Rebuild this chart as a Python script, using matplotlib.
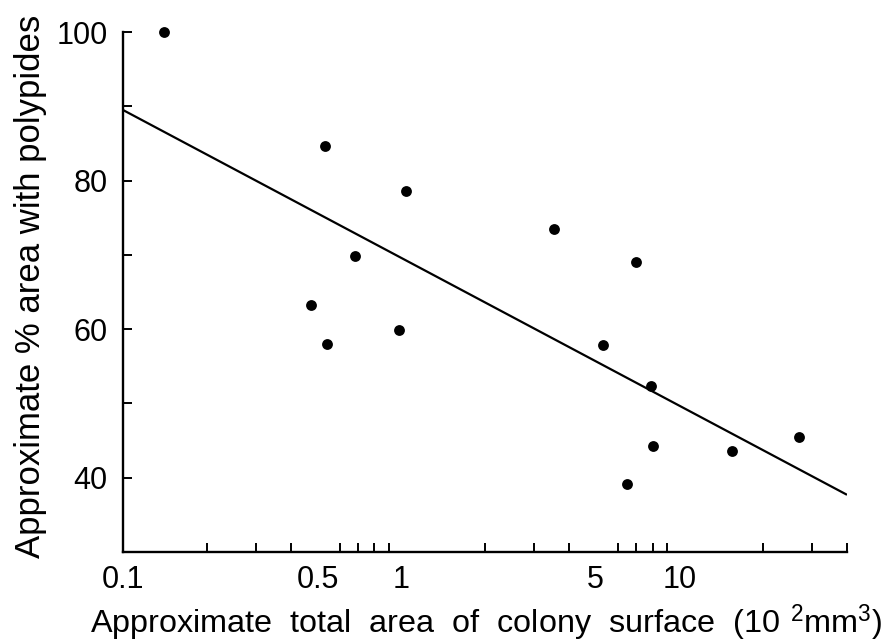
import matplotlib
matplotlib.use("Agg")
import matplotlib.pyplot as plt
from matplotlib.ticker import FixedLocator, NullFormatter, FixedFormatter

plt.rcParams['font.family'] = ['Liberation Sans', 'DejaVu Sans']
plt.rcParams['mathtext.fontset'] = 'custom'
plt.rcParams['mathtext.rm'] = 'Liberation Sans'
plt.rcParams['mathtext.it'] = 'Liberation Sans'

# Data
colony_area = [0.14, 0.533, 1.04, 0.684, 0.474, 0.542, 0.984, 3.55, 6.95, 5.33, 7.87, 8.06, 6.50, 15.4, 26.8]
pct_polypides = [100.0, 84.7, 78.6, 69.9, 63.2, 58.0, 59.9, 73.5, 69.1, 57.8, 52.4, 44.3, 39.1, 43.6, 45.5]

fit_x = [0.1, 40]
fit_y = [89.5, 37.7]

x_tick_values = [0.1, 0.5, 1, 5, 10]
x_tick_labels = ["0.1", "0.5", "1", "5", "10"]
x_minor = [0.2, 0.3, 0.4, 0.5, 0.6, 0.7, 0.8, 0.9, 1,
           2, 3, 4, 5, 6, 7, 8, 9, 10, 20, 30, 40]
y_major = [40, 60, 80, 100]
y_minor = [50, 70, 90]

xlabel = r"Approximate  total  area  of  colony  surface  (10$^{\;\;2}$mm$^{3}$)"
ylabel = "Approximate % area with polypides"

W, H = 890, 644
fig = plt.figure(figsize=(W / 100, H / 100), dpi=100)
ax = fig.add_axes([123 / W, 1 - 552 / H, (847 - 123) / W, (552 - 32) / H])

ax.plot(fit_x, fit_y, color='black', lw=1.6, solid_capstyle='butt')
ax.plot(colony_area, pct_polypides, 'o', color='black', ms=7.8, mew=0, clip_on=False)

ax.set_xscale('log')
ax.set_xlim(0.1, 40)
ax.set_ylim(30, 100)

ax.spines['top'].set_visible(False)
ax.spines['right'].set_visible(False)
for s in ('left', 'bottom'):
    ax.spines[s].set_linewidth(1.7)

ax.xaxis.set_major_locator(FixedLocator(x_tick_values))
ax.xaxis.set_major_formatter(FixedFormatter(x_tick_labels))
ax.xaxis.set_minor_locator(FixedLocator(x_minor))
ax.xaxis.set_minor_formatter(NullFormatter())
ax.yaxis.set_major_locator(FixedLocator(y_major))
ax.yaxis.set_minor_locator(FixedLocator(y_minor))
ax.yaxis.set_minor_formatter(NullFormatter())

ax.tick_params(axis='both', which='both', direction='in', length=6.5, width=1.4, colors='black')
ax.tick_params(axis='x', which='major', labelsize=22, pad=9, length=0)
ax.tick_params(axis='y', which='major', labelsize=22, pad=11)

tx = fig.text(486 / W, 1 - 633 / H, xlabel, ha='center', va='baseline', fontsize=21)
ty = fig.text(40 / W, 1 - 286 / H, ylabel, rotation=90, rotation_mode='anchor',
              ha='center', va='baseline', fontsize=24)

# fit the label sizes to the extents measured in the reference
fig.canvas.draw()
r = fig.canvas.get_renderer()
bx = tx.get_window_extent(r)
tx.set_fontsize(21 * 790 / bx.width)
by = ty.get_window_extent(r)
ty.set_fontsize(24 * 542 / by.height)

fig.savefig("out.png", dpi=100)
